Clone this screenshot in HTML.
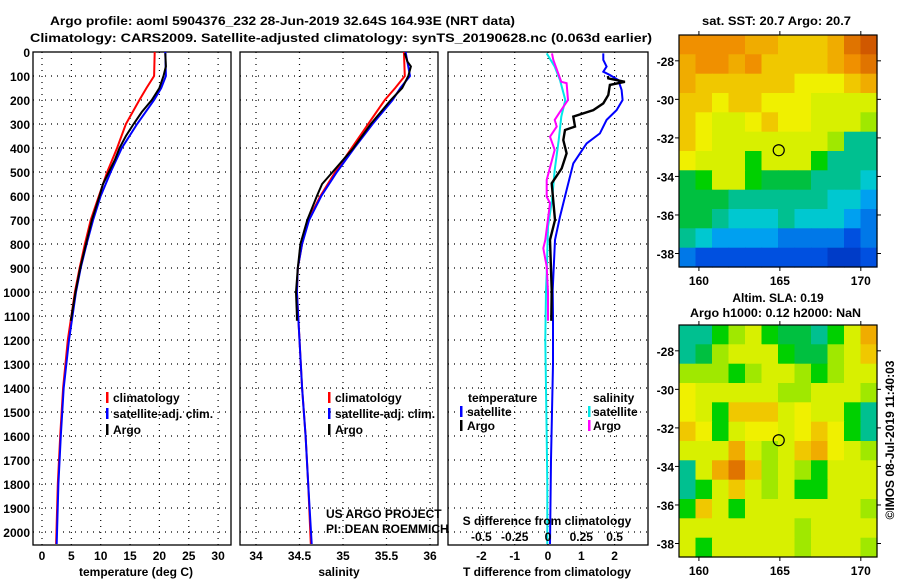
<!DOCTYPE html>
<html><head><meta charset="utf-8"><style>
body{margin:0;background:#fff;width:900px;height:580px;overflow:hidden}
svg text{font-family:"Liberation Sans",sans-serif;font-weight:bold;font-size:12px;fill:#000}
</style></head><body>
<svg id="c" width="900" height="580" xmlns="http://www.w3.org/2000/svg"></svg>
<script>
// ---- data ----
const climDepth = [0,100,150,200,300,400,500,600,700,800,900,1000,1200,1400,1600,1800,2050];
const tClim = [19.2,19.1,17.8,16.6,14.3,12.8,11.1,9.7,8.3,7.3,6.4,5.6,4.4,3.6,3.1,2.7,2.4];
const tSat = [21.0,21.1,20.3,19.1,16.2,13.6,11.7,10.0,8.7,7.6,6.6,5.8,4.6,3.7,3.2,2.8,2.5];
const argoTDepth = [5,60,100,150,200,250,300,350,400,450,500,550,600,700,800,900,1000,1120];
const tArgo = [21.0,21.1,20.7,20.0,18.7,17.0,15.6,14.3,13.2,12.4,11.4,10.4,9.8,8.5,7.5,6.5,5.7,4.9];
const sClim = [35.70,35.71,35.60,35.48,35.29,35.10,34.91,34.74,34.60,34.53,34.48,34.47,34.50,34.53,34.57,34.60,34.63];
const sSat = [35.72,35.77,35.66,35.57,35.34,35.13,34.93,34.75,34.61,34.53,34.48,34.47,34.50,34.53,34.57,34.60,34.64];
const argoSDepth = [5,40,60,100,150,200,300,400,500,550,600,700,800,900,1000,1100,1120];
const sArgo = [35.71,35.74,35.78,35.75,35.68,35.55,35.32,35.12,34.88,34.76,34.70,34.59,34.51,34.48,34.46,34.47,34.47];
const dTSatDepth = [6,33,61,82,96,117,158,200,242,283,339,381,464,575,686,783,992,1100,1300,1500,1700,2050];
const dTSat = [1.66,1.66,1.76,1.66,1.86,2.11,2.21,2.24,2.06,1.76,1.56,1.16,0.76,0.56,0.36,0.21,0.14,0.15,0.15,0.12,0.09,0.06];
const dTArgoDepth = [100,110,124,137,179,214,242,269,311,325,367,422,485,547,700,783,992,1120];
const dTArgo = [1.8,1.81,2.31,1.86,1.81,1.66,1.36,0.76,0.81,0.51,0.46,0.56,0.41,0.11,0.21,0.06,0.11,0.1];
const dSSatDepth = [6,61,117,200,269,367,492,617,728,922,992,1200,1400,1600,1800,2050];
const dSSat = [-0.01,0.05,0.09,0.13,0.10,0.08,0.05,0.03,0.0,-0.01,-0.015,-0.02,-0.015,-0.01,-0.005,-0.005];
const dSArgoDepth = [6,33,124,130,200,249,283,311,353,408,533,603,630,783,818,894,1000,1120];
const dSArgo = [0.03,0.04,0.10,0.14,0.15,0.09,0.05,0.065,0.015,0.05,-0.01,-0.01,0.015,-0.02,-0.035,-0.01,0.0,0.0];
const depthTicks = [0,100,200,300,400,500,600,700,800,900,1000,1100,1200,1300,1400,1500,1600,1700,1800,1900,2000];
const tTicks = [0,5,10,15,20,25,30];
const sTicks = [34,34.5,35,35.5,36];
const sTickLabels = ['34','34.5','35','35.5','36'];
const dTTicks = [-2,-1,0,1,2];
const dSTicks = [-0.5,-0.25,0,0.25,0.5];
const dSTickLabels = ['-0.5','-0.25','0','0.25','0.5'];
const latTicks = [-28,-30,-32,-34,-36,-38];
const lonTicks = [160,165,170];
const sstGrid = [
[7,7,7,7,6.5,6.5,6,6,6,6.5,7.5,8],
[6.5,7,7,6.5,7,6,6,6,6,6.5,7,7.5],
[6.5,6,6,6,6,6,6,5.5,5.5,5.5,6,6.5],
[6,6,5.5,6,6,5.5,5.5,5.5,5,5,5,5],
[6,5.5,5,5,5.5,6,5.5,5.5,5,5,5,4.5],
[6,5.5,5,5,5,5,5,5,5,4.5,3,3],
[5.5,5,5,5,4,5,5,5,4,3,3,3],
[3.5,4,5,5,4,3.5,3.5,3.5,3,3,3,2.5],
[3.5,3.5,3.5,3,3,3,3,3,3,2.5,2.5,2],
[3.5,3.5,3,2.5,2.5,2.5,3,2.5,2.5,2.5,2,1.5],
[3,2.5,2,2,2,2,1.5,1.5,1.5,1.5,1,1.5],
[1.5,1,1,1,1,1,1,1,1,0.5,0.5,1]];
const slaGrid = [
[3,3,4,4.5,5,4,3.5,3.5,3,4,5,6.5],
[3,3.5,4.5,5,5,5,4,3.5,3.5,4.5,5,6],
[4.5,4.5,4.5,4,4.5,5,5,4.5,4,4.5,5,5],
[5.5,5,5,5,5,5,4.5,4.5,5,5,5,4.5],
[5.5,5,4,6,6,6,5,5.5,5,5,4,3],
[6,5.5,4,5,5.5,5.5,5,5.5,6,5.5,4,3],
[5,5,5,6.5,5,4.5,5,6,6.5,5.5,5,4.5],
[3,5,6.5,7.5,6,4.5,5,4.5,4,5,5,5],
[3,4,5,6,5,4.5,5,4,4,5,5,5],
[4,6,5,4,5,5,5,5,5,5,5,4.5],
[5,5,5,5,5,5,5,4.5,5,5,5,5],
[5,4,5,5,5,5,5,4.5,5,5,5,4.5]];
const floatLon = 164.93, floatLat = -32.64;

// ---- helpers ----
const svg = document.getElementById('c');
const NS = 'http://www.w3.org/2000/svg';
function mk(tag, attrs, parent){const e=document.createElementNS(NS,tag);for(const k in attrs)e.setAttribute(k,attrs[k]);(parent||svg).appendChild(e);return e;}
function txt(x,y,s,anchor,parent){const t=mk('text',{x:x,y:y,'text-anchor':anchor||'start'},parent);t.textContent=s;return t;}
const top0=52, bot0=545;
const yD = d => top0 + d*0.24;
function lin(d0,d1,r0,r1){return v=>r0+(v-d0)*(r1-r0)/(d1-d0);}
const xT = lin(0,30,42,218.1);
const xS = lin(34,36,256,430);
const xDT = lin(0,2,548,614.6);
const xDS = v => xDT(v*4);

function frame(x0,x1,name){
  const g=mk('g',{});
  
  
  mk('rect',{x:x0,y:top0,width:x1-x0,height:bot0-top0,fill:'#fff',stroke:'#000','stroke-width':1.3},g);
  depthTicks.forEach(d=>{ if(d>0) mk('line',{x1:x0,x2:x1,y1:yD(d),y2:yD(d),stroke:'#000','stroke-dasharray':'1 5','stroke-width':1.2},g);});
  return g;
}
function vgrid(g,xs){xs.forEach(x=>mk('line',{x1:x,x2:x,y1:top0,y2:bot0,stroke:'#000','stroke-dasharray':'1 5','stroke-width':1.2},g));}
function line(g,depths,vals,xf,color,name,w){
  const p=mk('polyline',{points:depths.map((d,i)=>xf(vals[i]).toFixed(1)+','+yD(d).toFixed(1)).join(' '),fill:'none',stroke:color,'stroke-width':w||2},g);
  
  
}

// titles
let t1=txt(50,25,'Argo profile: aoml 5904376_232 28-Jun-2019 32.64S 164.93E (NRT data)','start');


t1.setAttribute('font-size','15');
t1.setAttribute('textLength','465');
t1.setAttribute('lengthAdjust','spacingAndGlyphs');
let t2=txt(30,42,'Climatology: CARS2009. Satellite-adjusted climatology: synTS_20190628.nc (0.063d earlier)','start');


t2.setAttribute('font-size','15');
t2.setAttribute('textLength','622');
t2.setAttribute('lengthAdjust','spacingAndGlyphs');

// depth labels
depthTicks.forEach(d=>{const t=txt(30,yD(d)+5,String(d),'end');

});

// panel 1
const g1=frame(33,231,'temperature-panel');
vgrid(g1,tTicks.map(xT));
line(g1,climDepth,tClim,xT,'#f00','temp-climatology-line');
line(g1,climDepth,tSat,xT,'#00f','temp-satellite-line');
line(g1,argoTDepth,tArgo,xT,'#000','temp-argo-line');
tTicks.forEach(v=>{const t=txt(xT(v),560,String(v),'middle');

});
let a1=txt(136,576,'temperature (deg C)','middle');



// panel 2
const g2=frame(240,438,'salinity-panel');
vgrid(g2,sTicks.map(xS));
line(g2,climDepth,sClim,xS,'#f00','sal-climatology-line');
line(g2,climDepth,sSat,xS,'#00f','sal-satellite-line');
line(g2,argoSDepth,sArgo,xS,'#000','sal-argo-line');
sTicks.forEach((v,i)=>{const t=txt(xS(v),560,sTickLabels[i],'middle');

});
let a2=txt(339,576,'salinity','middle');



// legends panels 1&2
function legend(x,y,items,name){
  const g=mk('g',{});
  
  
  items.forEach((it,i)=>{
    mk('rect',{x:x,y:y+i*16-10,width:2.5,height:11,fill:it[1]},g);
    txt(x+7,y+i*16,it[0],'start',g);
  });
}
legend(106,402,[['climatology','#f00'],['satellite-adj. clim.','#00f'],['Argo','#000']],'temp-legend');
legend(328,402,[['climatology','#f00'],['satellite-adj. clim.','#00f'],['Argo','#000']],'sal-legend');
const pi=mk('g',{});


let p1=txt(326,518,'US ARGO PROJECT','start',pi);p1.setAttribute('font-weight','normal');
let p2=txt(326,533,'PI: DEAN ROEMMICH','start',pi);p2.setAttribute('font-weight','normal');

// panel 3
const g3=frame(448,648,'difference-panel');
vgrid(g3,dTTicks.map(xDT));
line(g3,dSSatDepth,dSSat,xDS,'#00e8e8','sal-diff-satellite-line');
line(g3,dSArgoDepth,dSArgo,xDS,'#f0f','sal-diff-argo-line');
line(g3,dTSatDepth,dTSat,xDT,'#00f','temp-diff-satellite-line');
line(g3,dTArgoDepth,dTArgo,xDT,'#000','temp-diff-argo-line',2.4);
dTTicks.forEach(v=>{const t=txt(xDT(v),560,String(v),'middle');

});
let a3=txt(547,576,'T difference from climatology','middle');


const sg=mk('g',{});


txt(547,525,'S difference from climatology','middle',sg);
dSTicks.forEach((v,i)=>txt(xDS(v),541,dSTickLabels[i],'middle',sg));
const lg3=mk('g',{});


txt(468,402,'temperature','start',lg3);
mk('rect',{x:460,y:406,width:2.5,height:11,fill:'#00f'},lg3);txt(467,416,'satellite','start',lg3);
mk('rect',{x:460,y:420,width:2.5,height:11,fill:'#000'},lg3);txt(467,430,'Argo','start',lg3);
txt(593,402,'salinity','start',lg3);
mk('rect',{x:588,y:406,width:2.5,height:11,fill:'#00e8e8'},lg3);txt(593,416,'satellite','start',lg3);
mk('rect',{x:588,y:420,width:2.5,height:11,fill:'#f0f'},lg3);txt(593,430,'Argo','start',lg3);

// maps
const stops=[[0,[0,40,176]],[1,[0,80,224]],[2,[0,160,240]],[2.5,[0,200,208]],[3,[0,192,144]],[3.5,[0,192,64]],[4,[0,208,0]],[4.5,[160,232,0]],[5,[216,240,0]],[5.5,[240,240,0]],[6,[240,200,0]],[7,[240,144,0]],[8,[208,88,0]]];
function cmap(v){for(let i=1;i<stops.length;i++){if(v<=stops[i][0]){const a=stops[i-1],b=stops[i],f=(v-a[0])/(b[0]-a[0]);return 'rgb('+a[1].map((c,k)=>Math.round(c+(b[1][k]-c)*f)).join(',')+')';}}return 'rgb(208,88,0)';}
function map(y0,grid,name){
  const x0=679,x1=877,y1=y0+232;
  const lonD=[158.77,171.0], latD=[-26.66,-38.7];
  const xL=lin(lonD[0],lonD[1],x0,x1), yL=lin(latD[0],latD[1],y0,y1);
  const g=mk('g',{});
  
  
  const rows=grid.length, cols=grid[0].length;
  const dLon=(lonD[1]-lonD[0])/cols, dLat=(latD[1]-latD[0])/rows;
  grid.forEach((row,r)=>row.forEach((v,c)=>{
    const xa=xL(lonD[0]+c*dLon), xb=xL(lonD[0]+(c+1)*dLon), ya=yL(latD[0]+r*dLat), yb=yL(latD[0]+(r+1)*dLat);
    const cell=mk('rect',{x:xa.toFixed(1),y:ya.toFixed(1),width:(xb-xa+0.6).toFixed(1),height:(yb-ya+0.6).toFixed(1),fill:cmap(v)},g);
    
    
  }));
  mk('rect',{x:x0,y:y0,width:x1-x0,height:y1-y0,fill:'none',stroke:'#000','stroke-width':1.2},g);
  latTicks.forEach(l=>{mk('line',{x1:x0-4,x2:x0,y1:yL(l),y2:yL(l),stroke:'#000'},g);mk('line',{x1:x1,x2:x1+4,y1:yL(l),y2:yL(l),stroke:'#000'},g);txt(674,yL(l)+5,String(l),'end',g);});
  lonTicks.forEach(l=>{mk('line',{x1:xL(l),x2:xL(l),y1:y1,y2:y1+4,stroke:'#000'},g);mk('line',{x1:xL(l),x2:xL(l),y1:y0-4,y2:y0,stroke:'#000'},g);txt(xL(l),y1+18,String(l),'middle',g);});
  const m=mk('circle',{cx:xL(floatLon),cy:yL(floatLat),r:5.5,fill:'none',stroke:'#000','stroke-width':1.2},g);
  
  
}
map(35,sstGrid,'sst-map');
map(325,slaGrid,'sla-map');
let m1=txt(702,25,'sat. SST: 20.7 Argo: 20.7','start');


m1.setAttribute('textLength','149');
m1.setAttribute('lengthAdjust','spacingAndGlyphs');
let m2=txt(778,302,'Altim. SLA: 0.19','middle');


let m3=txt(690,317,'Argo h1000: 0.12 h2000: NaN','start');


m3.setAttribute('textLength','171');
m3.setAttribute('lengthAdjust','spacingAndGlyphs');
let cp=txt(0,0,'©IMOS 08-Jul-2019 11:40:03','middle');
cp.setAttribute('transform','translate(894,440) rotate(-90)');
cp.setAttribute('font-weight','normal');


</script>
</body></html>
